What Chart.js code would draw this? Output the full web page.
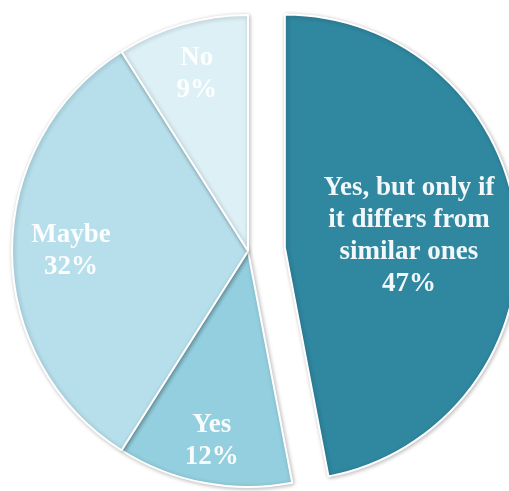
<!DOCTYPE html>
<html>
<head>
<meta charset="utf-8">
<script src="https://cdn.jsdelivr.net/npm/chart.js@4"></script>
<style>
  html, body { margin: 0; padding: 0; background: #ffffff; }
  #wrap { width: 509px; height: 491px; }
</style>
</head>
<body>
<div id="wrap"><canvas id="pie"></canvas></div>
<script>
// survey answers, clockwise from 12 o'clock
const categories = [
    ['Yes, but only if', 'it differs from', 'similar ones'],
    ['Yes'],
    ['Maybe'],
    ['No']
];
const shares = [47, 12, 32, 9];
const sliceColors = ['#2f87a0', '#93cfdf', '#b6dfeb', '#dcf0f6'];

// how far each slice is pulled out (px) and how far out its label sits (fraction of radius)
const explode = [37, 0, 0, 0];
const labelDepth = [0.535, 0.82, 0.75, 0.78];

// move exploded slices along their bisector; keeps the wedge angles exact
const explodeSlices = {
    id: 'explodeSlices',
    afterDatasetUpdate(chart, args) {
        const arcs = chart.getDatasetMeta(args.index).data;
        arcs.forEach((arc, i) => {
            if (!explode[i]) return;
            const mid = (arc.startAngle + arc.endAngle) / 2;
            arc.x += Math.cos(mid) * explode[i];
            arc.y += Math.sin(mid) * explode[i];
            arc.outerRadius -= 3;
        });
    }
};

const sliceLabels = {
    id: 'sliceLabels',
    afterDatasetsDraw(chart) {
        const ctx = chart.ctx;
        const arcs = chart.getDatasetMeta(0).data;
        ctx.save();
        ctx.fillStyle = 'rgba(255, 255, 255, 0.94)';
        ctx.font = 'bold 27px "Liberation Serif", "Times New Roman", serif';
        ctx.textAlign = 'center';
        ctx.textBaseline = 'middle';
        arcs.forEach((arc, i) => {
            const { x, y, startAngle, endAngle, outerRadius } = arc.getProps(['x', 'y', 'startAngle', 'endAngle', 'outerRadius']);
            const mid = (startAngle + endAngle) / 2;
            const d = outerRadius * labelDepth[i];
            const cx = x + Math.cos(mid) * d;
            const cy = y + Math.sin(mid) * d;
            const lines = categories[i].concat([shares[i] + '%']);
            const lh = 32;
            const top = cy - (lines.length - 1) * lh / 2;
            lines.forEach((t, k) => ctx.fillText(t, cx, top + k * lh));
        });
        ctx.restore();
    }
};

// soft drop shadow under the slices
const pieShadow = {
    id: 'pieShadow',
    beforeDatasetsDraw(chart) {
        const ctx = chart.ctx;
        ctx.save();
        ctx.shadowColor = 'rgba(0, 0, 0, 0.25)';
        ctx.shadowBlur = 4;
        ctx.shadowOffsetX = 1;
        ctx.shadowOffsetY = 1;
    },
    afterDatasetsDraw(chart) {
        chart.ctx.restore();
    }
};

new Chart(document.getElementById('pie'), {
    type: 'pie',
    data: {
        labels: categories,
        datasets: [{
            data: shares,
            backgroundColor: sliceColors,
            borderColor: '#ffffff',
            borderWidth: 2,
            radius: 236
        }]
    },
    options: {
        responsive: true,
        maintainAspectRatio: false,
        animation: false,
        layout: { padding: { left: 0, right: 13, top: 11, bottom: 0 } },
        plugins: {
            legend: { display: false },
            tooltip: { enabled: false }
        }
    },
    plugins: [explodeSlices, pieShadow, sliceLabels]
});
</script>
</body>
</html>
